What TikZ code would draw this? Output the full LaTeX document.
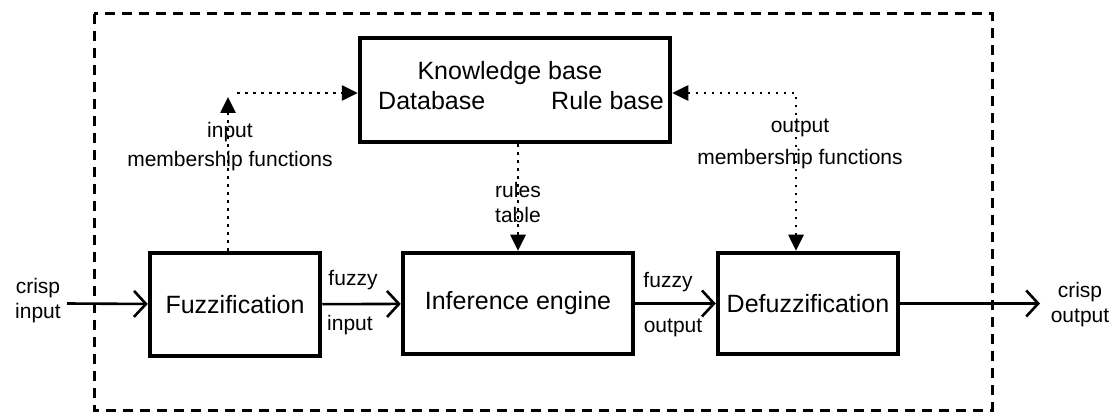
\documentclass[tikz,border=0pt]{standalone}
\usepackage{fontspec}
\setmainfont{Liberation Sans}
\usetikzlibrary{arrows.meta,positioning}
\tikzset{
    %Define standard arrow tips
    >={Straight Barb[length=12pt,width=26pt]},
    tri/.tip={Triangle[length=16pt,width=15pt]},
    %Define style for boxes
    blok/.style={
           rectangle,
           draw=black,
           line width=4.5pt,
           inner sep=0pt,
           font=\fontsize{25}{29}\selectfont},
    % Define style for small labels
    lbl/.style={
           inner sep=0pt,
           align=center,
           font=\fontsize{21}{25}\selectfont},
    % Define arrow styles
    pil/.style={
           ->,
           line width=2.6pt},
    prik/.style={
           -tri,
           line width=2.6pt,
           dash pattern=on 2.6pt off 5.4pt},
    % Define dashed frame
    ramme/.style={
           line width=3pt,
           dash pattern=on 10pt off 7pt}
}

\begin{document}
\begin{tikzpicture}[x=1pt,y=-1pt]
  \useasboundingbox (0,0) rectangle (1112,414);
  \draw[ramme] (94,14) rectangle (992,410);
  % boxes
  \node[blok,minimum width=310pt,minimum height=104pt] (kb) at (515,90) {};
  \node[blok,minimum width=170pt,minimum height=103pt] (fuzz) at (235,304.5) {Fuzzification};
  \node[blok,minimum width=230pt,minimum height=101pt] (inf) at (518,303.5) {Inference engine};
  \node[blok,minimum width=180pt,minimum height=101pt] (defuzz) at (808,303.5) {Defuzzification};
  % knowledge base texts
  \node[font=\fontsize{25}{29}\selectfont] (kbtitle) at (510,73) {Knowledge base};
  \node[font=\fontsize{25}{29}\selectfont,anchor=west,inner sep=0pt] (db) at (378,101) {Database};
  \node[font=\fontsize{25}{29}\selectfont,anchor=east,inner sep=0pt] (rb) at (664,101) {Rule base};
  % crisp in and out
  \node[lbl] (cin) at (38,300.5) {crisp\\input};
  \coordinate (cinend) at (67,303.5);
  \node[lbl] (cout) at (1080,305) {crisp\\output};
  \coordinate (coutend) at (1040,303.5);
  \draw[pil] (cinend) -- (fuzz);
  \draw[pil] (fuzz) -- (inf);
  \draw[pil] (inf) -- (defuzz);
  \draw[pil] (defuzz) -- (coutend);
  \node[lbl] (fin1) at (353,280) {fuzzy};
  \node[lbl] (fin2) at (350,325) {input};
  \node[lbl] (fout1) at (668,282) {fuzzy};
  \node[lbl] (fout2) at (673,328) {output};
  % membership functions
  \coordinate (inmf) at (228,97);
  \coordinate (inmfh) at (237,93);
  \draw[prik] (fuzz.north -| inmf) -- (inmf);
  \draw[prik] (inmfh) -- (kb.west |- inmfh);
  \node[lbl] (inmflbl) at (230,147) {input\\[4pt]membership functions};
  \coordinate (outmf) at (796,93);
  \draw[prik,tri-tri] (kb.east |- outmf) -- (outmf) -- (defuzz.north -| outmf);
  \node[lbl] (outmflbl) at (800,144) {output\\[7pt]membership functions};
  % rules table
  \draw[prik] (inf.north |- kb.south) -- (inf.north);
  \node[lbl] (rules) at (518,202) {rules\\table};
\end{tikzpicture}
\end{document}
